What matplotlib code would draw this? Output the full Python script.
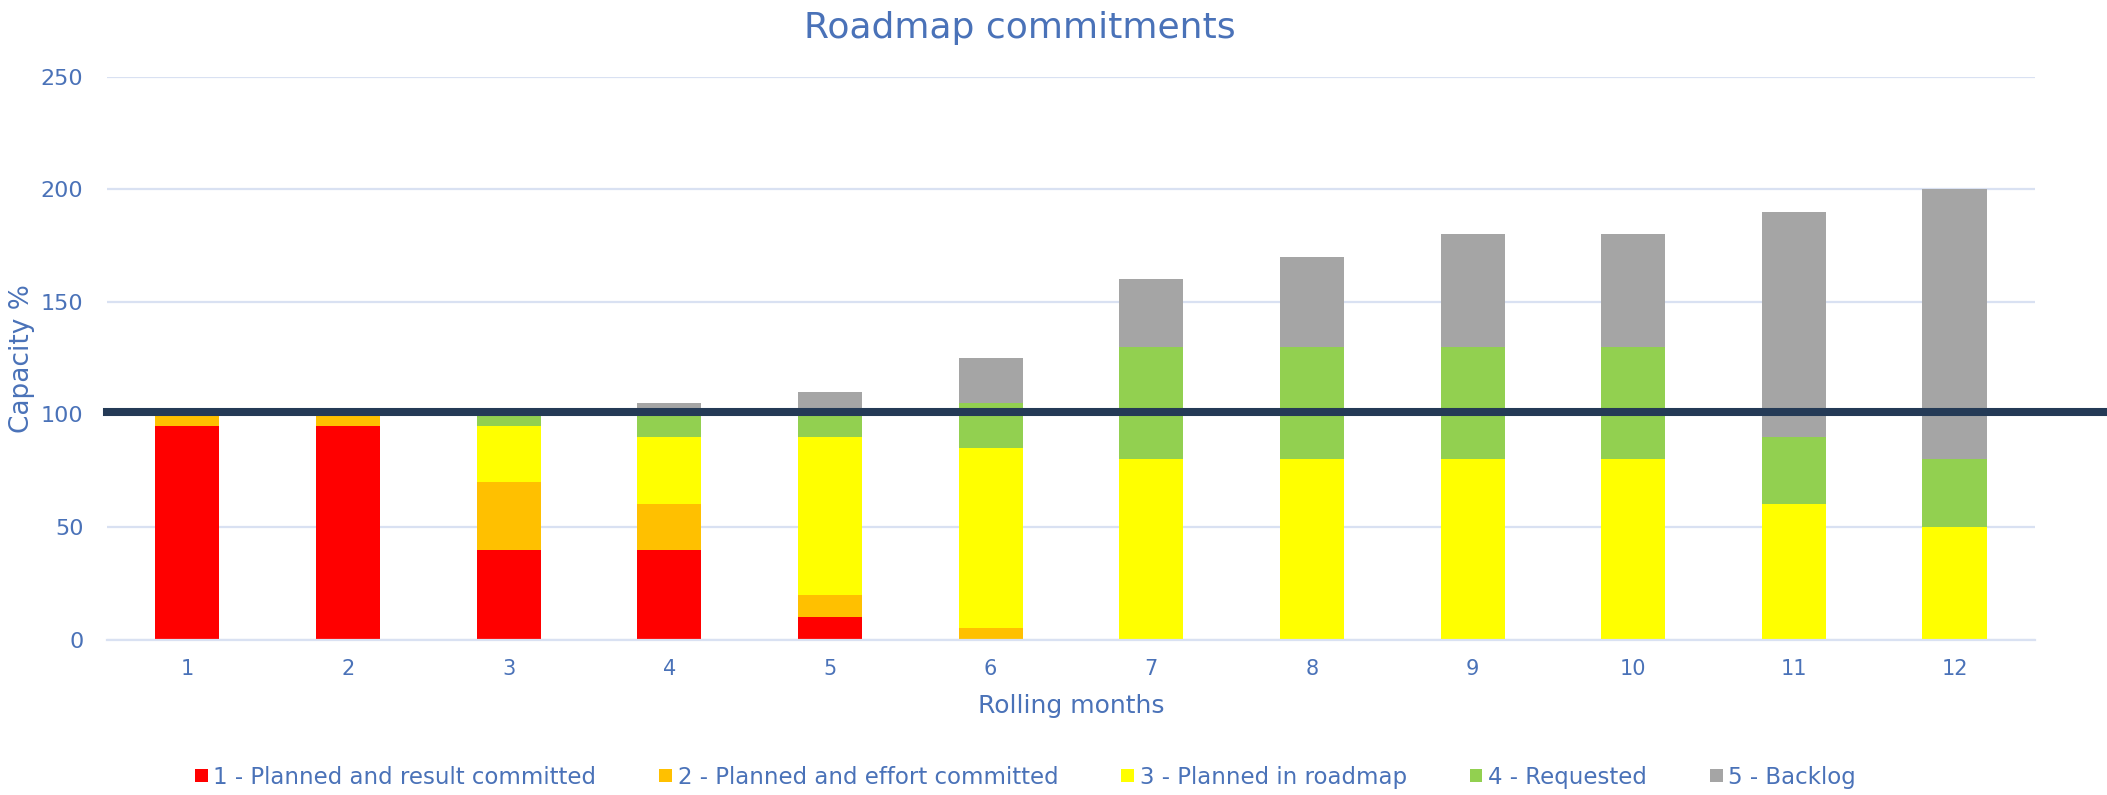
import matplotlib.pyplot as plt
import numpy as np

months = [1, 2, 3, 4, 5, 6, 7, 8, 9, 10, 11, 12]
result_committed = [95, 95, 40, 40, 10, 0, 0, 0, 0, 0, 0, 0]
effort_committed = [5, 5, 30, 20, 10, 5, 0, 0, 0, 0, 0, 0]
planned_roadmap = [0, 0, 25, 30, 70, 80, 80, 80, 80, 80, 60, 50]
requested = [0, 0, 5, 10, 10, 20, 50, 50, 50, 50, 30, 30]
backlog = [0, 0, 0, 5, 10, 20, 30, 40, 50, 50, 100, 120]
capacity_line = 101

series = [
    ("1 - Planned and result committed", result_committed, "#FF0000"),
    ("2 - Planned and effort committed", effort_committed, "#FFC000"),
    ("3 - Planned in roadmap", planned_roadmap, "#FFFF00"),
    ("4 - Requested", requested, "#92D050"),
    ("5 - Backlog", backlog, "#A5A5A5"),
]

text_color = "#4A72B8"
grid_color = "#D9E1F2"
plt.rcParams["font.family"] = ["DejaVu Sans"]

fig = plt.figure(figsize=(21.07, 7.95), dpi=100)
ax = fig.add_axes([0.0508, 0.1955, 0.915, 0.7081])

bottom = np.zeros(len(months))
handles = []
for label, vals, color in series:
    b = ax.bar(months, vals, width=0.4, bottom=bottom, color=color, label=label, zorder=2)
    handles.append(b)
    bottom += np.array(vals)

# capacity line runs past the right edge of the plot
ax.axhline(capacity_line, xmin=0, xmax=1.04, color="#243A56", linewidth=5.8, clip_on=False, zorder=3)

ax.set_xlim(0.5, 12.5)
ax.set_ylim(0, 250)
ax.set_yticks([0, 50, 100, 150, 200, 250])
ax.set_xticks(months)
ax.yaxis.grid(True, color=grid_color, linewidth=1.6, zorder=0)
ax.set_axisbelow(True)
for s in ["top", "right", "left"]:
    ax.spines[s].set_visible(False)
ax.spines["bottom"].set_color(grid_color)
ax.spines["bottom"].set_linewidth(1.6)
ax.tick_params(axis="x", length=0, colors=text_color, labelsize=15, pad=14)
ax.tick_params(axis="y", length=0, colors=text_color, labelsize=16, pad=17)

ax.set_xlabel("Rolling months", color=text_color, fontsize=18, va="center")
ax.xaxis.set_label_coords(0.5, -0.118)
ax.set_ylabel("Capacity %", color=text_color, fontsize=19, va="center")
ax.yaxis.set_label_coords(-0.044, 0.5)
fig.text(0.484, 0.952, "Roadmap commitments", color=text_color, fontsize=26,
         ha="center", va="baseline")

leg = fig.legend(handles=handles, loc="center", bbox_to_anchor=(0.4867, 0.0226), ncol=5,
                 frameon=False, fontsize=16.5, handlelength=0.55, handleheight=0.55,
                 handletextpad=0.25, columnspacing=2.75)
for t in leg.get_texts():
    t.set_color(text_color)

fig.savefig("out.png", dpi=100)
